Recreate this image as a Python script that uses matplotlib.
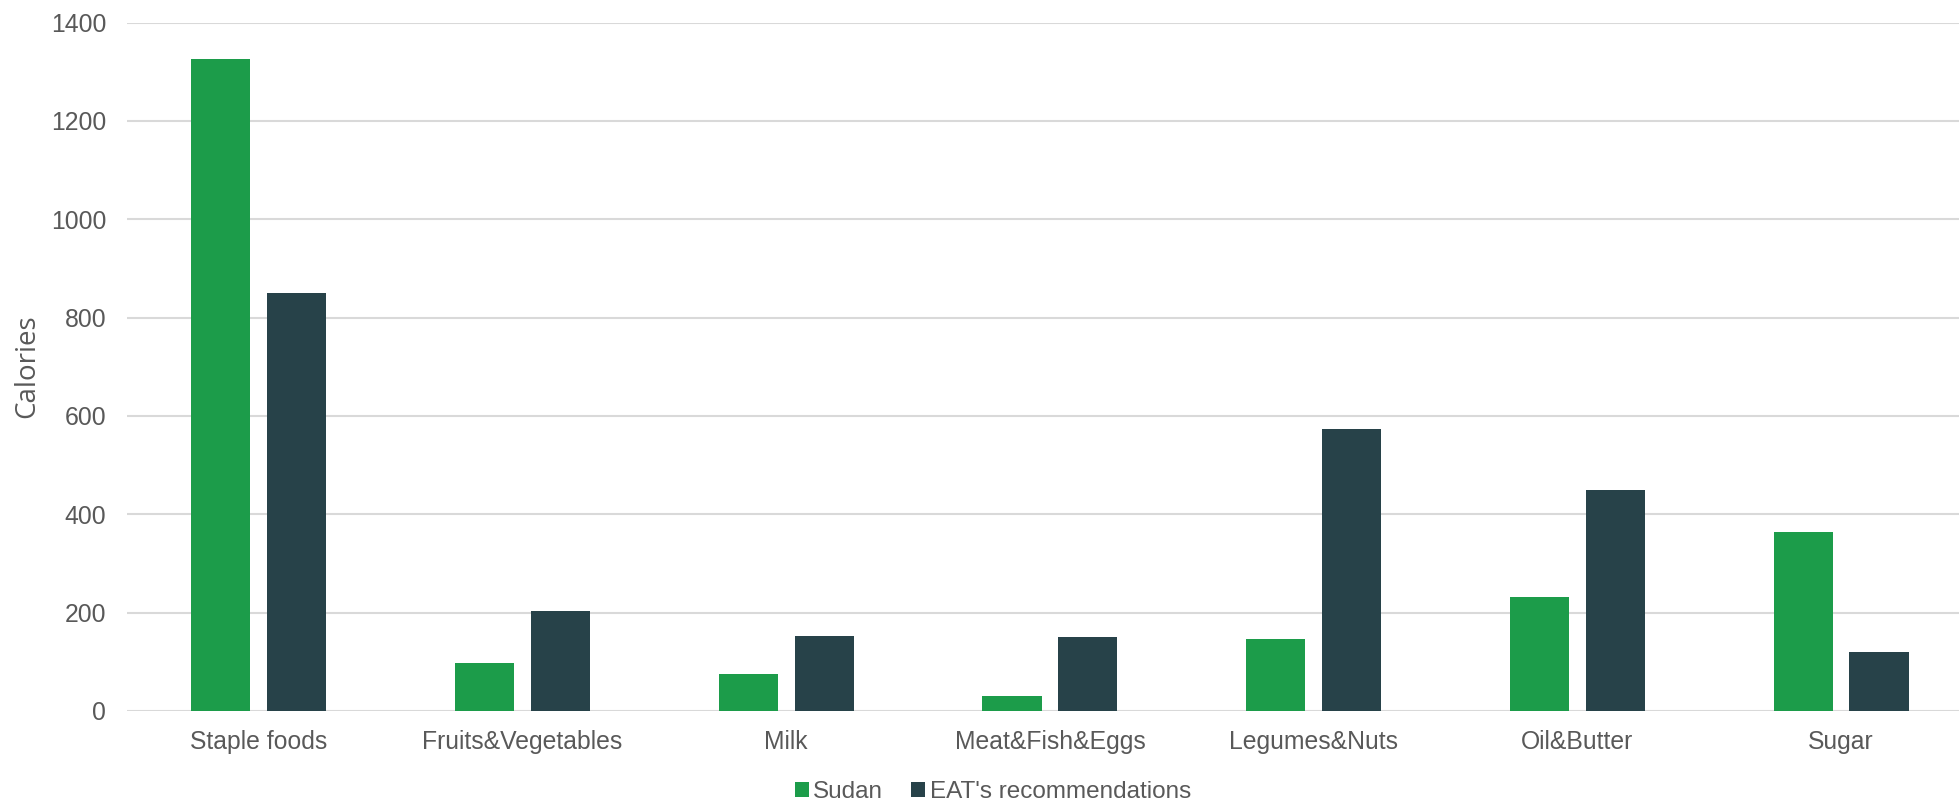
import matplotlib.pyplot as plt
import numpy as np
from matplotlib.patches import Patch

categories = ["Staple foods", "Fruits&Vegetables", "Milk", "Meat&Fish&Eggs",
              "Legumes&Nuts", "Oil&Butter", "Sugar"]
sudan = [1326, 97, 76, 30, 146, 232, 363]
eat = [849, 203, 152, 150, 574, 450, 119]
series_names = ["Sudan", "EAT's recommendations"]
y_ticks = [0, 200, 400, 600, 800, 1000, 1200, 1400]

GREEN = "#1c9c4a"
DARK = "#274249"
GRID = "#d9d9d9"
TEXT = "#595959"

plt.rcParams["font.family"] = ["Liberation Sans", "DejaVu Sans"]

W, H = 1959, 801
fig = plt.figure(figsize=(W / 100, H / 100), dpi=100)
left = 127 / W
bottom = 1 - 711 / H
top = 1 - 22.5 / H
width = 7 * 263.7 / W
ax = fig.add_axes([left, bottom, width, top - bottom])

x = np.arange(len(categories))
bw = 0.224
off = 0.144
ax.bar(x - off, sudan, bw, color=GREEN, zorder=3)
ax.bar(x + off, eat, bw, color=DARK, zorder=3)

ax.set_xlim(-0.5, len(categories) - 0.5)
ax.set_ylim(0, 1400)
ax.set_yticks(y_ticks)
ax.set_xticks(x)
ax.set_xticklabels(categories)
ax.yaxis.grid(True, color=GRID, linewidth=1.5, zorder=0)
ax.set_axisbelow(True)
for s in ax.spines.values():
    s.set_visible(False)
ax.tick_params(axis="both", length=0, labelsize=17.8, labelcolor=TEXT)
ax.tick_params(axis="y", pad=15)
ax.tick_params(axis="x", pad=14)

fig.text(27 / W, 1 - 366 / H, "Calories", rotation=90, ha="center", va="center",
         fontsize=20, color=TEXT, family=["Open Sans", "DejaVu Sans"])

handles = [Patch(facecolor=GREEN), Patch(facecolor=DARK)]
fig.legend(handles, series_names, loc="center", bbox_to_anchor=(993 / W, 1 - 792 / H),
           ncol=2, frameon=False, fontsize=17.5, labelcolor=TEXT,
           handlelength=0.55, handleheight=0.55, handletextpad=0.2,
           columnspacing=1.15, borderpad=0)

fig.savefig("out.png", dpi=100)
